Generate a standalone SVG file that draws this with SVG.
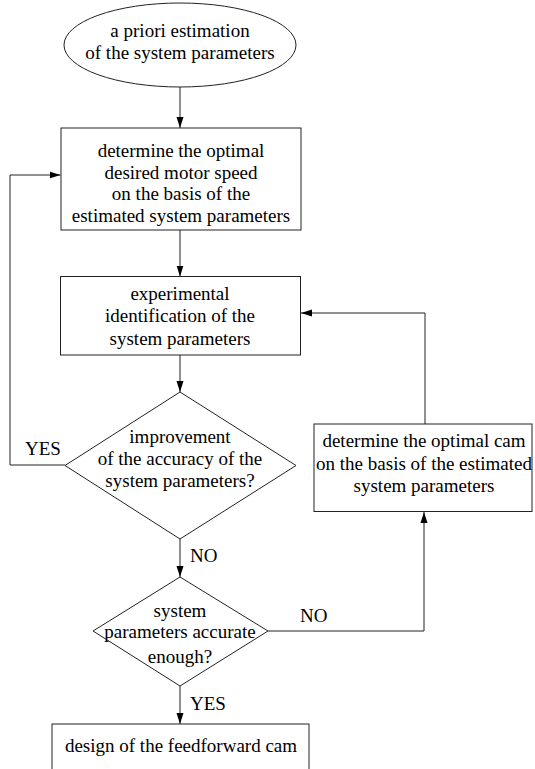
<svg xmlns="http://www.w3.org/2000/svg" width="535" height="769" viewBox="0 0 535 769">
<defs>
<marker id="ah" markerWidth="11" markerHeight="8" refX="11" refY="4" orient="auto" markerUnits="userSpaceOnUse">
<path d="M0,0.5 L11,4 L0,7.5 z" fill="#000"/>
</marker>
<style>
.s{fill:#fff;stroke:#222;stroke-width:1}
.c{fill:none;stroke:#222;stroke-width:1;marker-end:url(#ah)}
</style>
</defs>
<rect width="535" height="769" fill="#fff"/>
<g id="connectors">
<path class="c" d="M180,87 V128"/>
<path class="c" d="M180,230 V276.5"/>
<path class="c" d="M180,355 V392"/>
<path class="c" d="M180,539 V577"/>
<path class="c" d="M180,686 V724"/>
<path class="c" d="M65,465 H10 V175 H60.5"/>
<path class="c" d="M268,631 H424 V512"/>
<path class="c" d="M425,424 V313 H301"/>
</g>
<g style="font-family:'Liberation Serif',serif;font-size:19px" fill="#000" text-anchor="middle">
<g id="start">
<ellipse class="s" cx="180" cy="45" rx="116" ry="42"/>
<text x="180" y="37">a priori estimation</text>
<text x="180" y="59">of the system parameters</text>
</g>
<g id="speed">
<rect class="s" x="61" y="128" width="240" height="102"/>
<text x="181" y="157">determine the optimal</text>
<text x="181" y="179">desired motor speed</text>
<text x="181" y="200">on the basis of the</text>
<text x="181" y="222">estimated system parameters</text>
</g>
<g id="identify">
<rect class="s" x="60.5" y="276.5" width="240" height="78.5"/>
<text x="180" y="300">experimental</text>
<text x="180" y="322">identification of the</text>
<text x="180" y="345">system parameters</text>
</g>
<g id="improve">
<path class="s" d="M180,392 L296,465.5 L180,539 L65,465.5 z"/>
<text x="180" y="443">improvement</text>
<text x="180" y="465">of the accuracy of the</text>
<text x="180" y="487">system parameters?</text>
</g>
<g id="accurate">
<path class="s" d="M180,577 L268,631 L180,686 L93,631 z"/>
<text x="180" y="617">system</text>
<text x="180" y="638">parameters accurate</text>
<text x="180" y="663">enough?</text>
</g>
<g id="cam">
<rect class="s" x="314" y="424" width="218" height="87.5"/>
<text x="424" y="447">determine the optimal cam</text>
<text x="424" y="470">on the basis of the estimated</text>
<text x="424" y="492">system parameters</text>
</g>
<g id="design">
<rect class="s" x="52" y="724" width="257" height="60"/>
<text x="181" y="752">design of the feedforward cam</text>
</g>
<g id="labels" text-anchor="start">
<text x="25" y="455">YES</text>
<text x="190" y="562">NO</text>
<text x="300" y="622">NO</text>
<text x="190" y="710">YES</text>
</g>
</g>
</svg>
